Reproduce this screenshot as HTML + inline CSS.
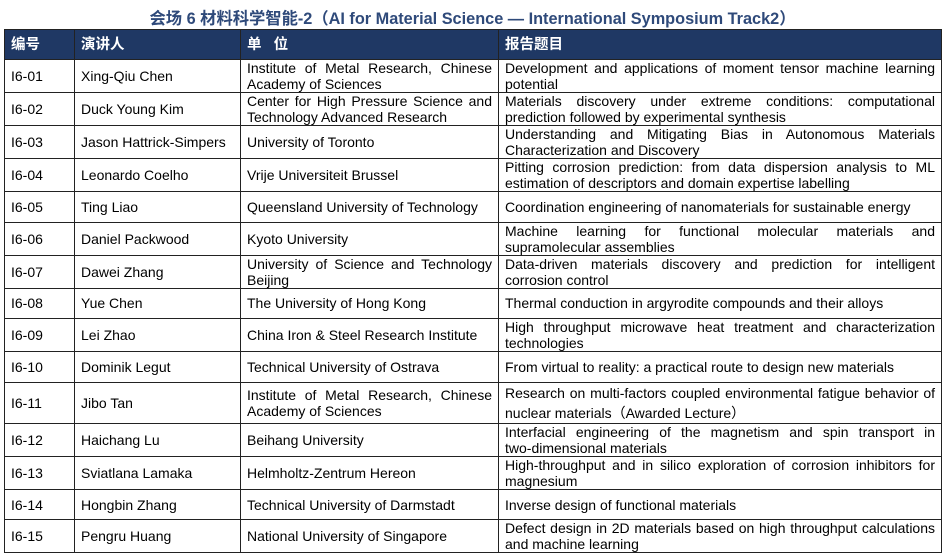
<!DOCTYPE html>
<html><head><meta charset="utf-8"><style>
body{margin:0;width:945px;height:559px;background:#fff;font-family:"Liberation Sans","Noto Sans CJK SC",sans-serif;overflow:hidden;position:relative}
.t{position:absolute;top:5px;left:0;width:945px;text-align:center;font-weight:bold;font-size:16.3px;color:#2f4a7a;white-space:nowrap}
table{position:absolute;left:4px;top:29px;border-collapse:collapse;table-layout:fixed;width:937px}
td,th{border:1px solid #222;padding:0 6px;font-size:14px;line-height:16px;color:#000;vertical-align:middle;overflow:hidden}
th{background:#1f3864;color:#fff;text-align:left;font-weight:bold;height:29px;font-size:14.5px}
td.j{text-align:justify;text-align-last:left}
tr.h33 td{height:32px}
tr.h31 td{height:29.6px}
</style></head><body>
<div class="t">会场 6 材料科学智能-2（AI for Material Science — International Symposium Track2）</div>
<table>
<colgroup><col style="width:70px"><col style="width:166px"><col style="width:258px"><col style="width:443px"></colgroup>
<tr><th>编号</th><th>演讲人</th><th>单&nbsp;&nbsp;&nbsp;位</th><th>报告题目</th></tr>
<tr class="h33"><td>I6-01</td><td>Xing-Qiu Chen</td><td class="j">Institute of Metal Research, Chinese Academy of Sciences</td><td class="j">Development and applications of moment tensor machine learning potential</td></tr>
<tr class="h33"><td>I6-02</td><td>Duck Young Kim</td><td class="j">Center for High Pressure Science and Technology Advanced Research</td><td class="j">Materials discovery under extreme conditions: computational prediction followed by experimental synthesis</td></tr>
<tr class="h33"><td>I6-03</td><td>Jason Hattrick-Simpers</td><td>University of Toronto</td><td class="j">Understanding and Mitigating Bias in Autonomous Materials Characterization and Discovery</td></tr>
<tr class="h33"><td>I6-04</td><td>Leonardo Coelho</td><td>Vrije Universiteit Brussel</td><td class="j">Pitting corrosion prediction: from data dispersion analysis to ML estimation of descriptors and domain expertise labelling</td></tr>
<tr class="h31"><td>I6-05</td><td>Ting Liao</td><td>Queensland University of Technology</td><td>Coordination engineering of nanomaterials for sustainable energy</td></tr>
<tr class="h33"><td>I6-06</td><td>Daniel Packwood</td><td>Kyoto University</td><td class="j">Machine learning for functional molecular materials and supramolecular assemblies</td></tr>
<tr class="h31"><td>I6-07</td><td>Dawei Zhang</td><td class="j">University of Science and Technology Beijing</td><td class="j">Data&#8209;driven materials discovery and prediction for intelligent corrosion control</td></tr>
<tr class="h31"><td>I6-08</td><td>Yue Chen</td><td>The University of Hong Kong</td><td>Thermal conduction in argyrodite compounds and their alloys</td></tr>
<tr class="h31"><td>I6-09</td><td>Lei Zhao</td><td>China Iron &amp; Steel Research Institute</td><td class="j">High throughput microwave heat treatment and characterization technologies</td></tr>
<tr class="h31"><td>I6-10</td><td>Dominik Legut</td><td>Technical University of Ostrava</td><td>From virtual to reality: a practical route to design new materials</td></tr>
<tr><td style="height:40px">I6-11</td><td>Jibo Tan</td><td class="j">Institute of Metal Research, Chinese Academy of Sciences</td><td class="j" style="line-height:20px">Research on multi&#8209;factors coupled environmental fatigue behavior of nuclear materials（Awarded Lecture）</td></tr>
<tr class="h33"><td>I6-12</td><td>Haichang Lu</td><td>Beihang University</td><td class="j">Interfacial engineering of the magnetism and spin transport in two&#8209;dimensional materials</td></tr>
<tr class="h31"><td>I6-13</td><td>Sviatlana Lamaka</td><td>Helmholtz-Zentrum Hereon</td><td class="j">High&#8209;throughput and in silico exploration of corrosion inhibitors for magnesium</td></tr>
<tr class="h31"><td>I6-14</td><td>Hongbin Zhang</td><td>Technical University of Darmstadt</td><td>Inverse design of functional materials</td></tr>
<tr class="h31"><td>I6-15</td><td>Pengru Huang</td><td>National University of Singapore</td><td class="j">Defect design in 2D materials based on high throughput calculations and machine learning</td></tr>
</table>
</body></html>
